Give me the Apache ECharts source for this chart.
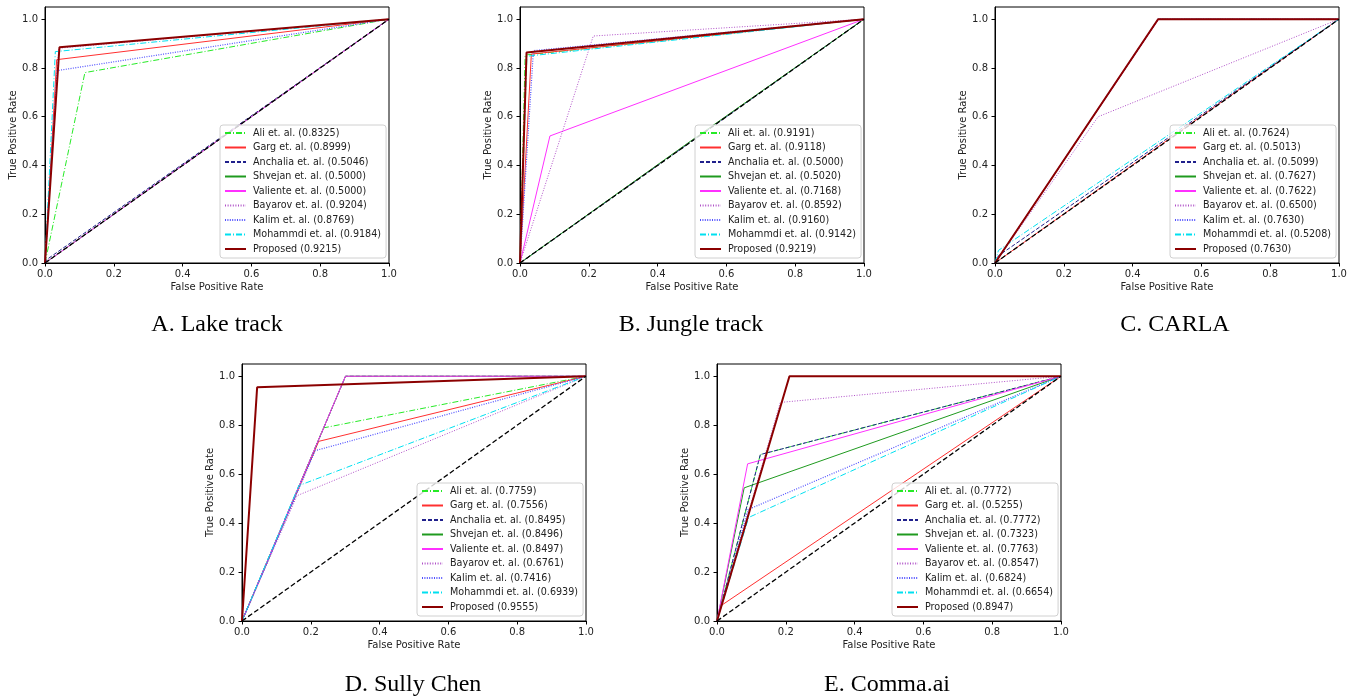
<!DOCTYPE html>
<html>
<head>
<meta charset="utf-8">
<script src="https://cdn.jsdelivr.net/npm/echarts@6/dist/echarts.min.js"></script>
<style>
  html, body { margin: 0; padding: 0; background: #fff; }
  #chart { width: 1359px; height: 697px; }
</style>
</head>
<body>
<div id="chart"></div>
<script>
// method names, same order in every panel
const methods = ['Ali et. al.', 'Garg et. al.', 'Anchalia et. al.', 'Shvejan et. al.', 'Valiente et. al.',
  'Bayarov et. al.', 'Kalim et. al.', 'Mohammdi et. al.', 'Proposed']

// one operating point per method (fpr, tpr) + AUC shown in legend
const lakeFpr = [0.116, 0.034, 0.005, 0.5, 0.5, 0.040, 0.035, 0.030, 0.042]
const lakeTpr = [0.781, 0.834, 0.014, 0.5, 0.5, 0.881, 0.789, 0.867, 0.885]
const lakeAuc = ['0.8325', '0.8999', '0.5046', '0.5000', '0.5000', '0.9204', '0.8769', '0.9184', '0.9215']

const jungleFpr = [0.015, 0.033, 0.5, 0.5, 0.087, 0.213, 0.039, 0.020, 0.019]
const jungleTpr = [0.853, 0.857, 0.5, 0.504, 0.521, 0.931, 0.871, 0.848, 0.863]
const jungleAuc = ['0.9191', '0.9118', '0.5000', '0.5020', '0.7168', '0.8592', '0.9160', '0.9142', '0.9219']

const carlaFpr = [0.4752, 0.5, 0.01, 0.4746, 0.4756, 0.300, 0.474, 0.01, 0.474]
const carlaTpr = [1.0, 0.5026, 0.0298, 1.0, 1.0, 0.600, 1.0, 0.0516, 1.0]
const carlaAuc = ['0.7624', '0.5013', '0.5099', '0.7627', '0.7622', '0.6500', '0.7630', '0.5208', '0.7630']

const sullyFpr = [0.237, 0.223, 0.301, 0.3008, 0.3006, 0.160, 0.213, 0.165, 0.044]
const sullyTpr = [0.789, 0.734, 1.0, 1.0, 1.0, 0.512, 0.696, 0.553, 0.955]
const sullyAuc = ['0.7759', '0.7556', '0.8495', '0.8496', '0.8497', '0.6761', '0.7416', '0.6939', '0.9555']

const commaFpr = [0.126, 0.012, 0.126, 0.079, 0.089, 0.184, 0.090, 0.092, 0.2106]
const commaTpr = [0.680, 0.063, 0.680, 0.544, 0.642, 0.893, 0.455, 0.423, 1.0]
const commaAuc = ['0.7772', '0.5255', '0.7772', '0.7323', '0.7763', '0.8547', '0.6824', '0.6654', '0.8947']

const captions = ['A. Lake track', 'B. Jungle track', 'C. CARLA', 'D. Sully Chen', 'E. Comma.ai']
const yTicks = [0, 0.2, 0.4, 0.6, 0.8, 1.0]

const panels = [
  { fpr: lakeFpr, tpr: lakeTpr, auc: lakeAuc, grid: [45, 7], legend: [220, 125], cap: [212, 308] },
  { fpr: jungleFpr, tpr: jungleTpr, auc: jungleAuc, grid: [520, 7], legend: [695, 125], cap: [686, 308] },
  { fpr: carlaFpr, tpr: carlaTpr, auc: carlaAuc, grid: [995, 7], legend: [1170, 125], cap: [1170, 308] },
  { fpr: sullyFpr, tpr: sullyTpr, auc: sullyAuc, grid: [242, 364], legend: [417, 483], cap: [408, 668] },
  { fpr: commaFpr, tpr: commaTpr, auc: commaAuc, grid: [717, 364], legend: [892, 483], cap: [882, 668] }
]

// line look per method (matplotlib-ish)
const looks = [
  { color: 'rgba(0,230,0,0.85)', type: [6, 2, 1, 2], width: 1 },
  { color: '#ff3030', type: 'solid', width: 1 },
  { color: '#20208c', type: [4, 2], width: 1 },
  { color: '#1f9a1f', type: 'solid', width: 1 },
  { color: '#ff30ff', type: 'solid', width: 1 },
  { color: '#b050c8', type: [1, 1.6], width: 1 },
  { color: '#5050ff', type: [1, 1.4], width: 1.2 },
  { color: '#00e0f0', type: [6, 2, 1, 2], width: 1 },
  { color: '#8b0000', type: 'solid', width: 2 }
]

const font = 'DejaVu Sans'
const option = {
  animation: false,
  title: [], grid: [], xAxis: [], yAxis: [], legend: [], series: []
}

panels.forEach((p, i) => {
  option.grid.push({
    left: p.grid[0], top: p.grid[1], width: 344, height: i < 3 ? 256 : 257,
    show: true, borderColor: '#000', borderWidth: 1, backgroundColor: '#fff'
  })
  option.xAxis.push({
    type: 'value', gridIndex: i, min: 0, max: 1, interval: 0.2,
    name: 'False Positive Rate', nameLocation: 'middle', nameGap: 19,
    nameTextStyle: { fontFamily: font, fontSize: 10, color: '#222' },
    axisLine: { onZero: false, lineStyle: { color: '#000', width: 1 } },
    axisTick: { length: 3.5, lineStyle: { color: '#000' } },
    axisLabel: { fontFamily: font, fontSize: 10, color: '#222', margin: 6,
      formatter: v => v.toFixed(1) },
    splitLine: { show: false }
  })
  option.yAxis.push({
    type: 'value', gridIndex: i, min: 0, max: 1.05,
    name: 'True Positive Rate', nameLocation: 'middle', nameGap: 26,
    nameTextStyle: { fontFamily: font, fontSize: 10, color: '#222' },
    axisLine: { onZero: false, lineStyle: { color: '#000', width: 1 } },
    axisTick: { length: 3.5, lineStyle: { color: '#000' }, customValues: yTicks },
    axisLabel: { fontFamily: font, fontSize: 10, color: '#222', margin: 7,
      customValues: yTicks, formatter: v => v.toFixed(1) },
    splitLine: { show: false }
  })
  option.title.push({
    text: captions[i], left: p.cap[0], top: p.cap[1], textAlign: 'center',
    textStyle: { fontFamily: 'Liberation Serif', fontSize: 24, fontWeight: 'normal', color: '#000' }
  })
  const names = methods.map((m, k) => m + ' (' + p.auc[k] + ')')
  option.legend.push({
    data: names, orient: 'vertical', left: p.legend[0], top: p.legend[1],
    itemWidth: 21, itemHeight: 10, itemGap: 4.5, padding: [3, 5, 4, 4],
    borderColor: '#d0d0d0', borderWidth: 1, borderRadius: 3,
    backgroundColor: 'rgba(255,255,255,0.8)',
    itemStyle: { opacity: 0 },
    textStyle: { fontFamily: font, fontSize: 9.6, color: '#222', padding: [0, 0, 0, 2] },
    selectedMode: false
  })
  methods.forEach((m, k) => {
    option.series.push({
      type: 'line', name: names[k], xAxisIndex: i, yAxisIndex: i,
      data: [[0, 0], [p.fpr[k], p.tpr[k]], [1, 1]],
      symbol: 'none', lineStyle: looks[k], itemStyle: { color: looks[k].color }
    })
  })
  // chance line
  option.series.push({
    type: 'line', name: 'chance' + i, xAxisIndex: i, yAxisIndex: i,
    data: [[0, 0], [1, 1]], symbol: 'none',
    lineStyle: { color: '#000', type: [5, 2.5], width: 1.3 }
  })
})

const chart = echarts.init(document.getElementById('chart'))
chart.setOption(option)
</script>
</body>
</html>
